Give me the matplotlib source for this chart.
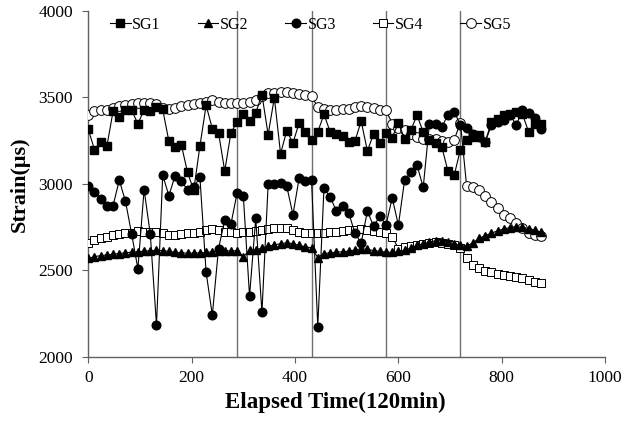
import matplotlib
matplotlib.use("Agg")
import matplotlib.pyplot as plt

# elapsed time (one reading every 12 units)
time = list(range(0, 877, 12))

sg1 = [3315, 3199, 3243, 3218, 3420, 3387, 3430, 3426, 3347, 3428,
       3421, 3447, 3431, 3247, 3211, 3228, 3067, 2964, 3219, 3455,
       3320, 3296, 3075, 3296, 3359, 3407, 3365, 3411, 3517, 3285,
       3499, 3176, 3307, 3237, 3353, 3298, 3256, 3301, 3403, 3301,
       3291, 3276, 3243, 3249, 3363, 3191, 3288, 3234, 3295, 3268,
       3353, 3262, 3311, 3397, 3301, 3256, 3234, 3214, 3073, 3051,
       3199, 3256, 3272, 3282, 3243, 3359, 3378, 3397, 3407, 3416,
       3403, 3301, 3349, 3349]

sg2 = [2570, 2580, 2586, 2590, 2594, 2598, 2602, 2606, 2608, 2612,
       2614, 2616, 2614, 2610, 2606, 2602, 2600, 2600, 2602, 2604,
       2608, 2610, 2612, 2614, 2614, 2579, 2616, 2620, 2630, 2640,
       2648, 2655, 2660, 2655, 2645, 2637, 2630, 2575, 2598, 2602,
       2606, 2608, 2612, 2618, 2626, 2622, 2615, 2610, 2606, 2604,
       2610, 2616, 2630, 2645, 2655, 2664, 2672, 2672, 2665, 2655,
       2645, 2640, 2660, 2685, 2702, 2715, 2730, 2740, 2748, 2752,
       2750, 2742, 2733, 2722]

sg3 = [2987, 2952, 2916, 2872, 2875, 3022, 2900, 2710, 2510, 2968,
       2710, 2185, 3051, 2933, 3048, 3017, 2966, 2980, 3039, 2490,
       2242, 2627, 2791, 2768, 2949, 2931, 2352, 2801, 2258, 2997,
       2997, 3003, 2987, 2822, 3035, 3015, 3021, 2175, 2974, 2926,
       2843, 2872, 2833, 2714, 2660, 2843, 2756, 2814, 2762, 2920,
       2762, 3022, 3070, 3110, 2980, 3347, 3349, 3330, 3400, 3416,
       3342, 3325, 3290, 3270, 3243, 3340, 3360, 3372, 3400, 3340,
       3426, 3411, 3380, 3320]

sg4 = [2660, 2679, 2685, 2695, 2704, 2710, 2718, 2718, 2729, 2723,
       2723, 2723, 2714, 2704, 2704, 2710, 2714, 2718, 2723, 2733,
       2737, 2733, 2723, 2720, 2718, 2720, 2723, 2726, 2733, 2738,
       2743, 2743, 2743, 2733, 2723, 2718, 2714, 2714, 2718, 2720,
       2723, 2729, 2733, 2735, 2737, 2733, 2729, 2723, 2714, 2695,
       2627, 2633, 2640, 2647, 2655, 2660, 2662, 2660, 2652, 2645,
       2630, 2570, 2531, 2512, 2498, 2490, 2479, 2475, 2468, 2460,
       2454, 2445, 2435, 2429]

sg5 = [3397, 3420, 3426, 3428, 3439, 3449, 3459, 3464, 3468, 3468,
       3468, 3460, 3440, 3436, 3438, 3448, 3455, 3464, 3470, 3474,
       3484, 3476, 3470, 3468, 3466, 3470, 3474, 3484, 3510, 3524,
       3528, 3532, 3532, 3524, 3520, 3516, 3507, 3445, 3432, 3430,
       3430, 3432, 3436, 3445, 3449, 3446, 3438, 3430, 3426, 3349,
       3325, 3310, 3290, 3270, 3262, 3262, 3258, 3250, 3245, 3256,
       3355, 2987, 2980, 2966, 2930, 2894, 2860, 2823, 2801, 2774,
       2743, 2714, 2705, 2699]

# day boundaries
day_lines = [288, 432, 576, 720]

plt.rcParams['font.family'] = ['Liberation Serif', 'DejaVu Serif']

fig = plt.figure(figsize=(6.35, 4.21), dpi=100)
ax = fig.add_axes([0.139, 0.152, 0.814, 0.822])

for d in day_lines:
    ax.axvline(d, color='#707070', lw=1.0, zorder=1)

ms = 6.2
ax.plot(time, sg1, color='black', lw=0.8, marker='s', ms=ms, mfc='black', mec='black', label='SG1', zorder=5)
ax.plot(time, sg2, color='black', lw=0.8, marker='^', ms=ms, mfc='black', mec='black', label='SG2', zorder=5)
ax.plot(time, sg3, color='black', lw=0.8, marker='o', ms=ms, mfc='black', mec='black', label='SG3', zorder=5)
ax.plot(time, sg4, color='black', lw=0.8, marker='s', ms=ms, mfc='white', mec='black', mew=0.7, label='SG4', zorder=3)
ax.plot(time, sg5, color='black', lw=0.8, marker='o', ms=ms + 0.8, mfc='white', mec='black', mew=0.7, label='SG5', zorder=3)

ax.set_xlim(0, 1000)
ax.set_ylim(2000, 4000)
ax.set_xticks([0, 200, 400, 600, 800, 1000])
ax.set_yticks([2000, 2500, 3000, 3500, 4000])
ax.tick_params(axis='both', labelsize=12.5, direction='out', length=4, color='#606060')
ax.tick_params(axis='y', pad=7)
ax.tick_params(axis='x', pad=5)

for s in ['top', 'right']:
    ax.spines[s].set_visible(False)
for s in ['left', 'bottom']:
    ax.spines[s].set_color('#606060')
    ax.spines[s].set_linewidth(1.0)

ax.set_xlabel('Elapsed Time(120min)', fontsize=16.5, fontweight='bold')
ax.xaxis.set_label_coords(0.478, -0.1)
ax.set_ylabel('Strain(μs)', fontsize=16, fontweight='bold', labelpad=6)

ax.legend(loc='upper center', bbox_to_anchor=(0.43, 1.025), ncol=5, frameon=False,
          fontsize=11.5, handlelength=1.3, handletextpad=0.1, columnspacing=2.3,
          markerscale=1.0)

fig.savefig('out.png', dpi=100)
